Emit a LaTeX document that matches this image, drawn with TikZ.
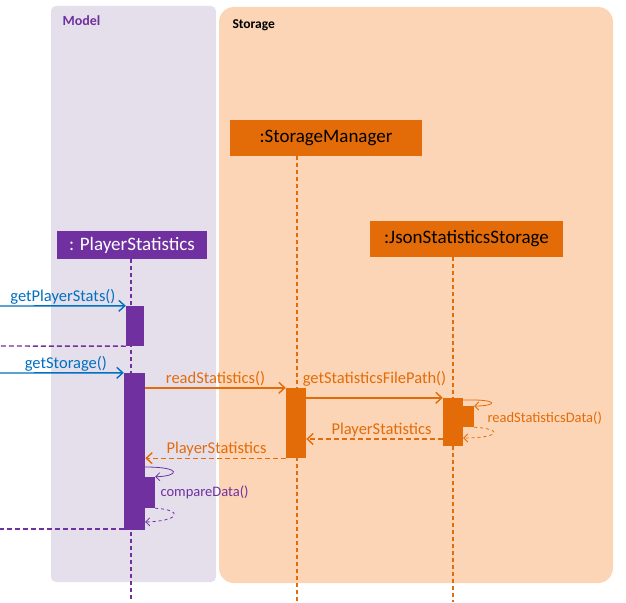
\documentclass[tikz,border=0pt]{standalone}
\usepackage{fontspec}
\setmainfont{Carlito}
\usetikzlibrary{positioning,arrows.meta}
\definecolor{logicblue}{HTML}{0070C0}
\definecolor{modelpurple}{HTML}{7030A0}
\definecolor{storeorange}{HTML}{E36C09}
\definecolor{modelbg}{HTML}{E5DFEC}
\definecolor{storebg}{HTML}{FBD5B5}
\tikzset{
  obj/.style={rectangle, inner sep=0pt, font=\fontsize{19}{22}\selectfont},
  act/.style={rectangle, inner sep=0pt, minimum width=20},
  life/.style={dashed, dash pattern=on 4pt off 3pt, line width=1.4pt},
  tip/.style={-{Straight Barb[length=6pt,width=11pt]}},
  call/.style={tip, line width=1.4pt},
  ret/.style={dashed, dash pattern=on 5pt off 3pt, line width=1.4pt},
  msg/.style={font=\fontsize{16.5}{19}\selectfont, inner sep=1pt},
  small/.style={font=\fontsize{14.5}{17}\selectfont},
  self/.style={-{Straight Barb[length=4pt,width=8pt]}, line width=0.8pt}
}

\begin{document}
\begin{tikzpicture}[x=1pt,y=-1pt]
  \useasboundingbox (0,0) rectangle (626,602);
  % boxes of the two components
  \fill[modelbg, rounded corners=5pt] (51,6) rectangle (216,582);
  \fill[storebg, rounded corners=15pt] (219,7) rectangle (613,583);
  \node[anchor=west, font=\bfseries\fontsize{14}{16}\selectfont, text=modelpurple] (model) at (59,21) {Model};
  \node[anchor=west, font=\bfseries\fontsize{13.5}{16}\selectfont] (storage) at (229,25) {Storage};

  % objects
  \node[obj, fill=modelpurple, text=white, minimum width=150, minimum height=28] (ps) at (132,245) {: PlayerStatistics};
  \node[obj, fill=storeorange, minimum width=192, minimum height=36] (sm) at (326,138) {:StorageManager};
  \node[obj, fill=storeorange, minimum width=193, minimum height=36] (js) at (466.5,239) {:JsonStatisticsStorage};

  % lifelines
  \coordinate (psend) at (131,602);
  \coordinate (smend) at (297,602);
  \coordinate (jsend) at (453,602);
  \draw[life, modelpurple] (ps.south -| psend) -- (psend);
  \draw[life, storeorange] (sm.south -| smend) -- (smend);
  \draw[life, storeorange] (js.south -| jsend) -- (jsend);

  % activations
  \node[act, fill=modelpurple, minimum width=18, minimum height=40] (a1) at (135,326) {};
  \node[act, fill=modelpurple, minimum width=21, minimum height=157] (a2) at (134.5,451.5) {};
  \node[act, fill=modelpurple, minimum width=10, minimum height=31] (a3) at (150,492.5) {};
  \node[act, fill=storeorange, minimum height=70] (b1) at (296,423) {};
  \node[act, fill=storeorange, minimum height=48] (c1) at (453,422) {};
  \node[act, fill=storeorange, minimum width=11, minimum height=21] (c2) at (468.5,416.5) {};

  % calls from outside
  \coordinate (in1) at (0,306);
  \coordinate (out1) at (0,346);
  \coordinate (in2) at (0,373);
  \coordinate (out2) at (0,529);
  \draw[call, logicblue] (in1) -- node[msg, above] {getPlayerStats()} (a1.north west);
  \draw[ret, modelpurple] (a1.south west) -- (out1);
  \draw[call, logicblue] (in2) -- node[msg, above, xshift=4pt] {getStorage()} (a2.north west);
  \draw[ret, modelpurple] (a2.west |- out2) -- (out2);

  % storage calls
  \draw[call, storeorange] (a2.east |- b1.north) -- node[msg, above] {readStatistics()} (b1.north west);
  \draw[call, storeorange] (b1.east |- c1.north) -- node[msg, above, yshift=10pt] {getStatisticsFilePath()} (c1.north west);
  \draw[ret, tip, storeorange] (c1.west |- 0,439) -- node[msg, above, xshift=7pt] {PlayerStatistics} (b1.east |- 0,439);
  \draw[ret, tip, storeorange] (b1.south west) -- node[msg, above, xshift=1pt] {PlayerStatistics} (a2.east |- b1.south);

  % self calls
  \draw[self, modelpurple] (a2.east |- 0,467) .. controls (182,467) and (180,476) .. (a3.north east);
  \draw[self, modelpurple, dashed] (a3.south east) .. controls (184,510) and (180,521) .. (a2.east |- 0,522);
  \node[small, text=modelpurple, anchor=west] (cmp) at (157,492) {compareData()};
  \draw[self, storeorange] (c1.east |- 0,400) .. controls (500,399) and (498,406) .. (c2.east |- 0,406);
  \draw[self, storeorange, dashed] (c2.south east) .. controls (504,429) and (500,438) .. (c1.east |- 0,438);
  \node[small, text=storeorange, anchor=west] (rsd) at (484,418) {readStatisticsData()};
\end{tikzpicture}
\end{document}
